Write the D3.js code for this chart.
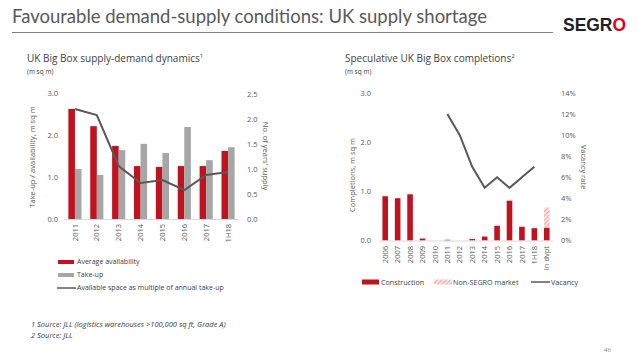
<!DOCTYPE html>
<html><head><meta charset="utf-8">
<script src="https://cdn.jsdelivr.net/npm/d3@7"></script>
<style>
body{margin:0;background:#fff;}
svg{display:block;font-family:"Open Sans","Noto Sans",sans-serif;}
</style></head>
<body>
<svg id="c" width="638" height="359"></svg>
<script>
// Left chart data
const leftCategories = ["2011","2012","2013","2014","2015","2016","2017","1H18"];
const availability = [2.62,2.21,1.74,1.26,1.24,1.26,1.26,1.62];
const takeUp = [1.19,1.05,1.64,1.79,1.57,2.19,1.40,1.71];
const yearsSupply = [2.20,2.08,1.06,0.72,0.78,0.58,0.88,0.94];
const leftTicks = [0,1,2,3];
const leftRightTicks = [0,0.5,1,1.5,2,2.5];

// Right chart data
const rightCategories = ["2006","2007","2008","2009","2010","2011","2012","2013","2014","2015","2016","2017","1H18","In dvpt"];
const construction = [0.90,0.86,0.94,0.04,0,0.015,0,0.03,0.08,0.30,0.81,0.28,0.25,0.26];
const nonSegro = [0,0,0,0,0,0,0,0,0,0,0,0,0,0.41];
const vacancyCategories = ["2011","2012","2013","2014","2015","2016","2017","1H18"];
const vacancy = [12,10,7,5,6,5,6,7];
const rightTicks = [0,1,2,3];
const vacancyTicks = [0,2,4,6,8,10,12,14];

const RED = "#c0121f", GREY = "#a6a6a6", LINE = "#595959", TXT = "#595959";
const svg = d3.select("#c");

// pattern
const defs = svg.append("defs");
const pat = defs.append("pattern").attr("id","hatch").attr("patternUnits","userSpaceOnUse")
  .attr("width",3).attr("height",3).attr("patternTransform","rotate(45)");
pat.append("rect").attr("width",3).attr("height",3).attr("fill","#fbe3e4");
pat.append("line").attr("x1",0).attr("y1",0).attr("x2",0).attr("y2",3).attr("stroke","#e07f86").attr("stroke-width",1.2);

// Header
svg.append("text").attr("x",12).attr("y",23).attr("font-size",18.5).attr("fill","#595959")
  .attr("font-family","Lato, 'Open Sans', sans-serif")
  .text("Favourable demand-supply conditions: UK supply shortage");
svg.append("line").attr("x1",12).attr("x2",553).attr("y1",32.5).attr("y2",32.5).attr("stroke","#7f7f7f").attr("stroke-width",1);
// logo: size the font so that the word fits its slot
const logoFont = "'Liberation Sans Narrow', 'Liberation Sans', Arial, sans-serif";
const logo = svg.append("text").attr("x",563).attr("y",31).attr("font-size",21).attr("font-weight","bold")
  .attr("font-family",logoFont).attr("fill","#222");
logo.append("tspan").text("SEGR");
logo.append("tspan").attr("fill","#e2001a").text("O");
const lw = logo.node().getComputedTextLength();
logo.attr("font-size", 21*63/lw);

// ---------- Left chart ----------
svg.append("text").attr("x",27).attr("y",62).attr("font-size",10).attr("fill","#404040").text("UK Big Box supply-demand dynamics").append("tspan").attr("font-size",6).attr("dy",-4).text("1");
svg.append("text").attr("x",27).attr("y",74).attr("font-size",6.5).attr("fill","#404040").text("(m sq m)");

const lx = d3.scaleBand().domain(leftCategories).range([64,239]).paddingInner(0.4).paddingOuter(0.2);
const ly = d3.scaleLinear().domain([0,3]).range([219,93]);
const ly2 = d3.scaleLinear().domain([0,2.5]).range([219,94]);
const lbw = lx.bandwidth()/2;

const lg = svg.append("g");
lg.selectAll(".ra").data(availability).join("rect")
  .attr("x",(d,i)=>lx(leftCategories[i])).attr("y",d=>ly(d)).attr("width",lbw).attr("height",d=>ly(0)-ly(d)).attr("fill",RED);
lg.selectAll(".ta").data(takeUp).join("rect")
  .attr("x",(d,i)=>lx(leftCategories[i])+lbw).attr("y",d=>ly(d)).attr("width",lbw).attr("height",d=>ly(0)-ly(d)).attr("fill",GREY);
lg.append("line").attr("x1",64).attr("x2",239).attr("y1",ly(0)+0.5).attr("y2",ly(0)+0.5).attr("stroke","#d9d9d9");
lg.append("path").datum(yearsSupply)
  .attr("d",d3.line().x((d,i)=>lx(leftCategories[i])+lx.bandwidth()/2).y(d=>ly2(d)))
  .attr("fill","none").attr("stroke",LINE).attr("stroke-width",2);

// left axes
const laxL = svg.append("g").attr("transform","translate(58,0)")
  .call(d3.axisLeft(ly).tickValues(leftTicks).tickFormat(d3.format(".1f")).tickSize(0).tickPadding(0));
const laxR = svg.append("g").attr("transform","translate(247,0)")
  .call(d3.axisRight(ly2).tickValues(leftRightTicks).tickFormat(d3.format(".1f")).tickSize(0).tickPadding(0));
const laxB = svg.append("g").attr("transform","translate(0,223)")
  .call(d3.axisBottom(lx).tickSize(0).tickPadding(0));
laxB.selectAll("text").attr("transform","rotate(-90)").attr("text-anchor","end").attr("dy","0.35em").attr("x",-1).attr("y",0);
[laxL,laxR,laxB].forEach(a=>{a.select(".domain").remove();a.selectAll("text").attr("font-size",7.5).attr("fill",TXT).attr("font-family","'Open Sans',sans-serif");});

svg.append("text").attr("transform","translate(35,157) rotate(-90)").attr("text-anchor","middle")
  .attr("font-size",7.5).attr("fill",TXT).text("Take-up / availability, m sq m");
svg.append("text").attr("transform","translate(263,156) rotate(90)").attr("text-anchor","middle")
  .attr("font-size",7.5).attr("fill",TXT).text("No. of years' supply");

// left legend
const leg1 = [{t:"Average availability",c:RED,type:"bar"},{t:"Take-up",c:GREY,type:"bar"},{t:"Available space as multiple of annual take-up",c:LINE,type:"line"}];
leg1.forEach((d,i)=>{
  const y = 262 + i*13;
  if(d.type==="bar") svg.append("rect").attr("x",58).attr("y",y-2).attr("width",16).attr("height",4).attr("fill",d.c);
  else svg.append("line").attr("x1",57).attr("x2",76).attr("y1",y).attr("y2",y).attr("stroke",d.c).attr("stroke-width",1.5);
  svg.append("text").attr("x",77).attr("y",y).attr("dy","0.35em").attr("font-size",7).attr("fill","#404040").text(d.t);
});

// footnotes
svg.append("text").attr("x",31).attr("y",327).attr("font-size",7.5).attr("font-style","italic").attr("fill","#404040")
  .text("1 Source: JLL (logistics warehouses >100,000 sq ft, Grade A)");
svg.append("text").attr("x",31).attr("y",338).attr("font-size",7.5).attr("font-style","italic").attr("fill","#404040")
  .text("2 Source: JLL");

// ---------- Right chart ----------
svg.append("text").attr("x",345).attr("y",62).attr("font-size",10).attr("fill","#404040").text("Speculative UK Big Box completions").append("tspan").attr("font-size",6).attr("dy",-4).text("2");
svg.append("text").attr("x",345).attr("y",74).attr("font-size",6.5).attr("fill","#404040").text("(m sq m)");

const rx = d3.scaleBand().domain(rightCategories).range([379,553]).paddingInner(0.55).paddingOuter(0.275);
const ry = d3.scaleLinear().domain([0,3]).range([240.5,93]);
const ry2 = d3.scaleLinear().domain([0,14]).range([240.5,93]);

const rg = svg.append("g");
rg.selectAll(".cb").data(construction).join("rect")
  .attr("x",(d,i)=>rx(rightCategories[i])).attr("y",d=>ry(d)).attr("width",rx.bandwidth()).attr("height",d=>ry(0)-ry(d)).attr("fill",RED);
rg.selectAll(".nb").data(nonSegro).join("rect")
  .attr("x",(d,i)=>rx(rightCategories[i])).attr("y",(d,i)=>ry(construction[i]+d)).attr("width",rx.bandwidth())
  .attr("height",(d,i)=>ry(construction[i])-ry(construction[i]+d)).attr("fill","url(#hatch)");
rg.append("line").attr("x1",379).attr("x2",553).attr("y1",ry(0)+0.5).attr("y2",ry(0)+0.5).attr("stroke","#d9d9d9");
rg.append("path").datum(vacancy)
  .attr("d",d3.line().x((d,i)=>rx(vacancyCategories[i])+rx.bandwidth()/2).y(d=>ry2(d)))
  .attr("fill","none").attr("stroke",LINE).attr("stroke-width",2);

const raxL = svg.append("g").attr("transform","translate(371,0)")
  .call(d3.axisLeft(ry).tickValues(rightTicks).tickFormat(d3.format(".1f")).tickSize(0).tickPadding(0));
const raxR = svg.append("g").attr("transform","translate(561,0)")
  .call(d3.axisRight(ry2).tickValues(vacancyTicks).tickFormat(d=>d+"%").tickSize(0).tickPadding(0));
const raxB = svg.append("g").attr("transform","translate(0,245)")
  .call(d3.axisBottom(rx).tickSize(0).tickPadding(0));
raxB.selectAll("text").attr("transform","rotate(-90)").attr("text-anchor","end").attr("dy","0.35em").attr("x",-1).attr("y",0);
[raxL,raxR,raxB].forEach(a=>{a.select(".domain").remove();a.selectAll("text").attr("font-size",7.5).attr("fill",TXT).attr("font-family","'Open Sans',sans-serif");});

svg.append("text").attr("transform","translate(355,175) rotate(-90)").attr("text-anchor","middle")
  .attr("font-size",7.5).attr("fill",TXT).text("Completions, m sq m");
svg.append("text").attr("transform","translate(581,167) rotate(90)").attr("text-anchor","middle")
  .attr("font-size",7.5).attr("fill",TXT).text("Vacancy rate");

// right legend
const ly0 = 282;
svg.append("rect").attr("x",362).attr("y",ly0-2.5).attr("width",17).attr("height",5).attr("fill",RED);
svg.append("text").attr("x",381).attr("y",ly0).attr("dy","0.35em").attr("font-size",7.2).attr("fill","#404040").text("Construction");
svg.append("rect").attr("x",434).attr("y",ly0-2.5).attr("width",18).attr("height",5).attr("fill","url(#hatch)");
svg.append("text").attr("x",453).attr("y",ly0).attr("dy","0.35em").attr("font-size",7.2).attr("fill","#404040").text("Non-SEGRO market");
svg.append("line").attr("x1",531).attr("x2",550).attr("y1",ly0).attr("y2",ly0).attr("stroke",LINE).attr("stroke-width",1.5);
svg.append("text").attr("x",551).attr("y",ly0).attr("dy","0.35em").attr("font-size",7.2).attr("fill","#404040").text("Vacancy");

// page number
svg.append("text").attr("x",604).attr("y",352).attr("font-size",6).attr("fill","#7f7f7f").text("46");
</script>
</body></html>
